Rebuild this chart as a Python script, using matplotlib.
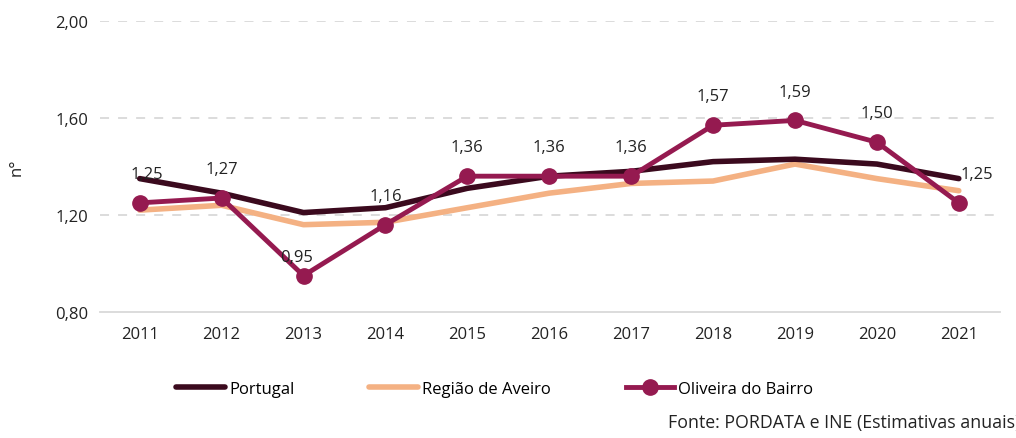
import matplotlib.pyplot as plt

plt.rcParams['font.family'] = ['Open Sans', 'DejaVu Sans']

# Data
anos = ['2011', '2012', '2013', '2014', '2015', '2016', '2017', '2018', '2019', '2020', '2021']
portugal = [1.35, 1.29, 1.21, 1.23, 1.31, 1.36, 1.38, 1.42, 1.43, 1.41, 1.35]
aveiro = [1.22, 1.24, 1.16, 1.17, 1.23, 1.29, 1.33, 1.34, 1.41, 1.35, 1.30]
oliveira = [1.25, 1.27, 0.95, 1.16, 1.36, 1.36, 1.36, 1.57, 1.59, 1.50, 1.25]
yticks = [0.80, 1.20, 1.60, 2.00]

c_pt = '#3B0A1E'
c_av = '#F4B183'
c_ol = '#951A50'

fig = plt.figure(figsize=(10.16, 4.39), dpi=100)
ax = fig.add_axes([0.098, 0.287, 0.886, 0.663])

x = range(len(anos))
ax.plot(x, portugal, color=c_pt, lw=4, solid_capstyle='round', label='Portugal', zorder=3)
ax.plot(x, aveiro, color=c_av, lw=4, solid_capstyle='round', label='Região de Aveiro', zorder=2)
ax.plot(x, oliveira, color=c_ol, lw=3.5, marker='o', ms=11, label='Oliveira do Bairro', zorder=4)

# label offsets (points), a couple of them nudged like in the original
offs = {0: (5, 15), 2: (-5, 8), 10: (13, 15)}
for i, v in enumerate(oliveira):
    ax.annotate(f'{v:.2f}'.replace('.', ','), (i, v), xytext=offs.get(i, (0, 15)),
                textcoords='offset points', ha='center', va='bottom',
                fontsize=12, color='#222222', zorder=5)

ax.set_xlim(-0.49, 10.5)
ax.set_ylim(0.80, 2.00)
ax.set_yticks(yticks)
ax.set_yticklabels([f'{t:.2f}'.replace('.', ',') for t in yticks])
ax.set_xticks(list(x))
ax.set_xticklabels(anos)
ax.tick_params(length=0, labelsize=12, colors='#222222')
ax.tick_params(axis='x', pad=10)
ax.tick_params(axis='y', pad=8)

for t in yticks[1:]:
    ax.axhline(t, color='#D9D9D9', lw=1.3, ls=(0, (5, 5)), zorder=0)
ax.axhline(0.80, color='#D9D9D9', lw=1.3, zorder=0, clip_on=False)
for s in ax.spines.values():
    s.set_visible(False)

ax.set_ylabel('n°', fontsize=12, color='#222222')
ax.yaxis.set_label_coords(-0.083, 0.5)

fig.legend(loc='center', bbox_to_anchor=(0.487, 0.112), ncol=3, frameon=False,
           fontsize=12, handlelength=2.9, handletextpad=0.25, columnspacing=4.5)

fig.text(0.657, 0.025, 'Fonte: PORDATA e INE (Estimativas anuais)', fontsize=12.8,
         color='#222222', ha='left', va='top', transform=fig.transFigure,
         position=(0.657, 0.058))

fig.savefig('out.png', dpi=100)
